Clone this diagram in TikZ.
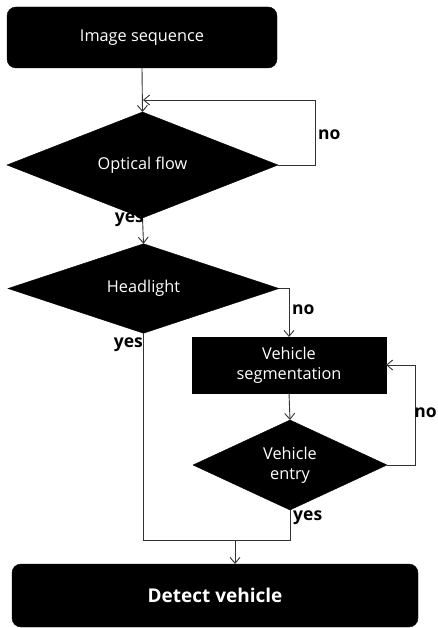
\documentclass[tikz,border=0pt]{standalone}
\usepackage{fontspec}
\setmainfont{Open Sans}
\usetikzlibrary{shapes.geometric,arrows.meta}
\begin{document}
\begin{tikzpicture}[x=1pt,y=-1pt,
  box/.style={fill=black,draw=black,text=white,inner sep=0pt,outer sep=0pt,align=center,font=\fontsize{16.3}{20}\selectfont},
  rbox/.style={box,rounded corners=9pt},
  dia/.style={box,diamond,aspect=1},
  lbl/.style={font=\bfseries\fontsize{17.5}{20}\selectfont,inner sep=0pt},
  conn/.style={draw=black!80,line width=0.9pt},
  arr/.style={conn,-{Straight Barb[length=6pt,width=10pt,line width=0.9pt]}}]
\useasboundingbox (0,0) rectangle (438,628);
\node[rbox,minimum width=270pt,minimum height=61pt] (is) at (142,37.5) {Image sequence};
\node[dia,minimum width=271pt,minimum height=80pt] (of) at (142.5,165) {Optical flow};
\node[dia,minimum width=271pt,minimum height=79pt] (hl) at (143.5,288.5) {Headlight};
\node[box,minimum width=194pt,minimum height=56pt] (vs) at (289,365) {Vehicle\\segmentation};
\node[dia,minimum width=194pt,minimum height=80pt] (ve) at (290,465) {Vehicle\\entry};
\node[rbox,minimum width=406pt,minimum height=63pt,font=\bfseries\fontsize{19}{23}\selectfont] (dv) at (215,595.5) {Detect vehicle};
\coordinate (j1) at (143,100);
\coordinate (m) at (235,540);
\draw[arr] (is.south) -- (of.north);
\draw[arr] (of.east) -- ++(37,0) |- (j1);
\draw[arr] (of.south) -- (hl.north);
\draw[arr] (hl.east) -| (vs.north);
\draw[arr] (vs.south) -- (ve.north);
\draw[arr] (ve.east) -- ++(28,0) |- (vs.east);
\draw[conn] (hl.south) |- (m);
\draw[conn] (ve.south) |- (m);
\draw[arr] (m) -- (m |- dv.north);
\node[lbl,anchor=west] (l1) at (318,135) {no};
\node[lbl,anchor=east] (l2) at (144,220) {yes};
\node[lbl,anchor=west] (l3) at (292,310) {no};
\node[lbl,anchor=east] (l4) at (143,345) {yes};
\node[lbl,anchor=east] (l5) at (437,413) {no};
\node[lbl,anchor=west] (l6) at (293,518) {yes};
\end{tikzpicture}
\end{document}
